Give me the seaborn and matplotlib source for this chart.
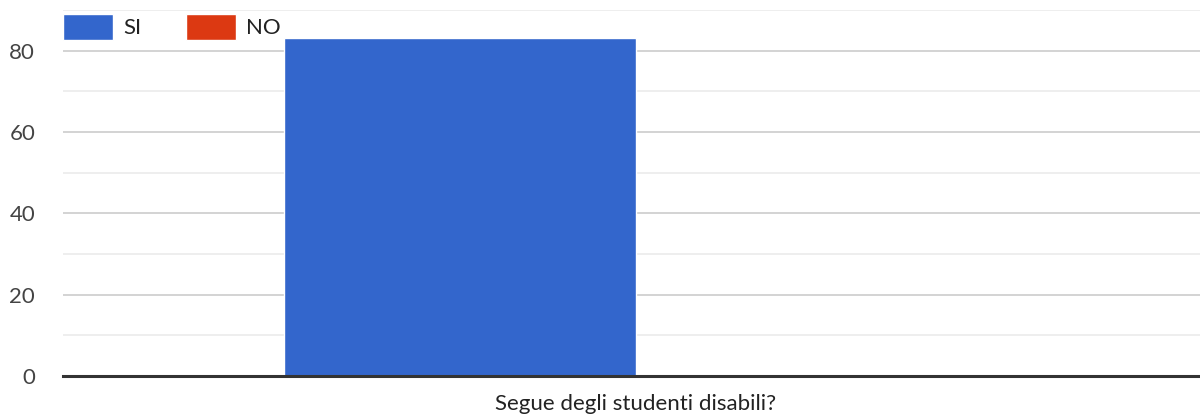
import matplotlib
matplotlib.use("Agg")
import matplotlib.pyplot as plt
import seaborn as sns
import pandas as pd

categories = ["Segue degli studenti disabili?"]
series = ["SI", "NO"]
si_values = [83]
no_values = [0]
colors = ["#3366cc", "#dc3912"]

df = pd.DataFrame({
    "cat": categories * 2,
    "serie": ["SI"] * len(si_values) + ["NO"] * len(no_values),
    "val": si_values + no_values,
})

sns.set_theme(style="white")
plt.rcParams["font.family"] = ["Lato", "DejaVu Sans"]

fig = plt.figure(figsize=(12, 4.16), dpi=100)
ax = fig.add_axes([63 / 1200, 1 - 376 / 416, 1 - 63 / 1200, (376 - 10) / 416])

sns.barplot(data=df, x="cat", y="val", hue="serie", hue_order=series,
            palette=colors, width=0.62, ax=ax, saturation=1, legend=True)

ax.set_ylim(0, 90)
ax.set_xlim(-0.504, 0.496)
ax.set_yticks([0, 20, 40, 60, 80])
ax.set_yticks([10, 30, 50, 70, 90], minor=True)
ax.grid(axis="y", which="major", color="#cccccc", linewidth=1.2, zorder=0)
ax.grid(axis="y", which="minor", color="#ebebeb", linewidth=1.2, zorder=0)
ax.set_axisbelow(True)
for s in ["top", "right", "left"]:
    ax.spines[s].set_visible(False)
ax.spines["bottom"].set_color("#333333")
ax.spines["bottom"].set_linewidth(2.2)
ax.spines["bottom"].set_zorder(5)
ax.set_xlabel("")
ax.set_ylabel("")
ax.tick_params(axis="y", which="both", length=0, pad=20, labelsize=16, labelcolor="#444444")
ax.tick_params(axis="x", length=0, pad=13, labelsize=16, labelcolor="#222222")

handles, labels = ax.get_legend_handles_labels()
ax.legend(handles, labels, loc="upper left", ncol=2, frameon=False,
          bbox_to_anchor=(63 / 1200, 1 - 14 / 416), bbox_transform=fig.transFigure,
          borderaxespad=0, borderpad=0, handlelength=2.25, handleheight=1.4,
          handletextpad=0.45, columnspacing=2.0, fontsize=16, labelcolor="#222222")

fig.savefig("out.png", dpi=100)
